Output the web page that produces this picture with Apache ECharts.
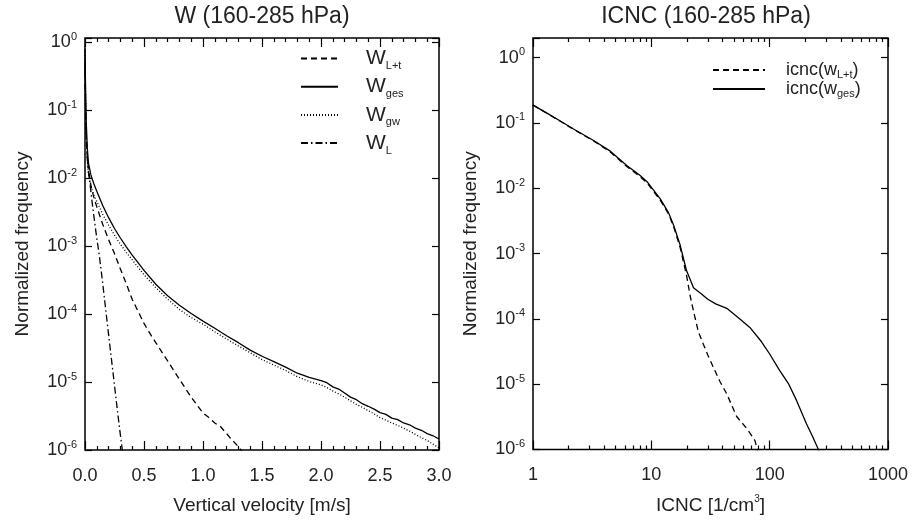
<!DOCTYPE html>
<html><head><meta charset="utf-8">
<script src="https://cdn.jsdelivr.net/npm/echarts@6.0.0/dist/echarts.min.js"></script>
<style>html,body{margin:0;padding:0;background:#fff}#c{width:912px;height:520px}</style>
</head><body><div id="c"></div>
<script>
// ---------- Left panel: W (160-285 hPa) ----------
const wVel = [0, 0.005, 0.01, 0.02, 0.03, 0.05, 0.075, 0.1, 0.15, 0.2, 0.25, 0.3, 0.35, 0.4, 0.5, 0.6, 0.7, 0.8, 0.9, 1.0, 1.1, 1.2, 1.3, 1.4, 1.5, 1.6, 1.7, 1.8, 1.9, 2.0, 2.05, 2.1, 2.15, 2.2, 2.25, 2.3, 2.35, 2.4, 2.45, 2.5, 2.55, 2.6, 2.65, 2.7, 2.75, 2.8, 2.85, 2.9, 2.95, 3.0];
const wGes = [0.79, 0.20, 0.071, 0.027, 0.0166, 0.0112, 0.0083, 0.00646, 0.00398, 0.00263, 0.00182, 0.00132, 9.8e-4, 7.4e-4, 4.4e-4, 2.75e-4, 1.86e-4, 1.35e-4, 1.02e-4, 7.9e-5, 6.2e-5, 4.8e-5, 3.8e-5, 2.95e-5, 2.4e-5, 2.0e-5, 1.66e-5, 1.35e-5, 1.17e-5, 1.05e-5, 9.8e-6, 8.5e-6, 7.9e-6, 6.9e-6, 6.0e-6, 5.5e-6, 4.8e-6, 4.4e-6, 4.0e-6, 3.55e-6, 3.35e-6, 2.95e-6, 2.8e-6, 2.5e-6, 2.35e-6, 2.1e-6, 1.95e-6, 1.74e-6, 1.62e-6, 1.45e-6];
const wGw  = [0.89, 0.158, 0.05, 0.0178, 0.0112, 0.0076, 0.0056, 0.00457, 0.00295, 0.00204, 0.00145, 0.00107, 8.1e-4, 6.3e-4, 3.8e-4, 2.45e-4, 1.66e-4, 1.17e-4, 8.9e-5, 7.1e-5, 5.5e-5, 4.3e-5, 3.4e-5, 2.7e-5, 2.14e-5, 1.78e-5, 1.48e-5, 1.2e-5, 1.02e-5, 9.1e-6, 8.3e-6, 7.4e-6, 6.7e-6, 6.0e-6, 5.3e-6, 4.7e-6, 4.25e-6, 3.8e-6, 3.4e-6, 3.0e-6, 2.75e-6, 2.5e-6, 2.3e-6, 2.1e-6, 1.9e-6, 1.7e-6, 1.52e-6, 1.38e-6, 1.22e-6, 1.07e-6];
const wLtVel = [0, 0.005, 0.01, 0.02, 0.03, 0.05, 0.075, 0.1, 0.15, 0.2, 0.25, 0.3, 0.35, 0.4, 0.5, 0.55, 0.6, 0.7, 0.8, 0.9, 1.0, 1.05, 1.1, 1.15, 1.2, 1.25, 1.3, 1.33];
const wLt    = [0.5, 0.126, 0.0447, 0.02, 0.0132, 0.0079, 0.0052, 0.0038, 0.0021, 0.00125, 7.8e-4, 4.6e-4, 2.8e-4, 1.65e-4, 7.3e-5, 5.2e-5, 3.8e-5, 2.05e-5, 1.1e-5, 6.0e-6, 3.5e-6, 3.0e-6, 2.5e-6, 2.2e-6, 1.74e-6, 1.38e-6, 1.12e-6, 9.5e-7];
const wLVel = [0, 0.005, 0.01, 0.02, 0.03, 0.04, 0.06, 0.08, 0.1, 0.12, 0.14, 0.16, 0.18, 0.2, 0.22, 0.24, 0.26, 0.28, 0.3, 0.32];
const wL    = [0.4, 0.1, 0.04, 0.019, 0.012, 0.0089, 0.0045, 0.0024, 0.0013, 7.6e-4, 4.0e-4, 2.0e-4, 1.0e-4, 5.0e-5, 2.5e-5, 1.26e-5, 6.3e-6, 3.2e-6, 1.66e-6, 8.9e-7];

// ---------- Right panel: ICNC (160-285 hPa) ----------
const icncX   = [1, 1.3, 1.7, 2.2, 3.25, 4.5, 6.2, 8, 9.2, 11.9, 14, 15.4, 17.5, 19.9, 21.3, 22.7, 25.9, 30, 35, 43.4, 56, 68, 85, 100, 122, 145, 169, 205, 230, 257, 270];
const icncGes = [0.188, 0.143, 0.107, 0.081, 0.054, 0.037, 0.0224, 0.0158, 0.0126, 0.0069, 0.0042, 0.00275, 0.00135, 5.4e-4, 4.0e-4, 3.0e-4, 2.5e-4, 2.0e-4, 1.7e-4, 1.45e-4, 1.0e-4, 7.4e-5, 4.5e-5, 2.9e-5, 1.6e-5, 1.0e-5, 5.6e-6, 2.45e-6, 1.6e-6, 1.02e-6, 8e-7];
const icncLtX = [1, 1.3, 1.7, 2.2, 3.25, 4.5, 6.2, 8, 9.2, 11.9, 14, 15.4, 17.5, 19.9, 21.3, 22.7, 25, 27.5, 30, 33.4, 38, 43.4, 52.6, 64, 70, 75, 80];
const icncLt  = [0.188, 0.142, 0.106, 0.080, 0.053, 0.036, 0.0215, 0.0152, 0.0121, 0.0066, 0.0040, 0.0026, 0.00125, 4.5e-4, 2.24e-4, 1.32e-4, 6.3e-5, 4.1e-5, 2.8e-5, 1.82e-5, 1.1e-5, 7.1e-6, 3.2e-6, 2.1e-6, 1.66e-6, 1.38e-6, 9e-7];

const icncMinorTicks = [2,3,4,5,6,7,8,9,20,30,40,50,60,70,80,90,200,300,400,500,600,700,800,900];

const FONT = "'Liberation Sans', Arial, Helvetica, sans-serif";
const TXT = '#222';
const pairs = (xs, ys) => xs.map((x, i) => [x, ys[i]]);

function powLabel(v) {
  const e = Math.log10(v);
  const r = Math.round(e);
  if (Math.abs(e - r) > 1e-6) return '';
  return '{b|10}{s|' + r + '}';
}
const powRich = {
  b: { fontSize: 18, fontFamily: FONT, color: TXT, lineHeight: 22 },
  s: { fontSize: 11, fontFamily: FONT, color: TXT, lineHeight: 12, verticalAlign: 'top' }
};
const tickStyle = { color: '#000', width: 1.2 };
const noLine = { show: false, onZero: false };
const nameStyle = { fontSize: 19, fontFamily: FONT, color: TXT };

function velAxis(pos, withLabel) {
  const a = {
    gridIndex: 0, type: 'value', position: pos, min: 0, max: 3, interval: 0.5,
    axisLine: noLine,
    axisTick: { show: true, inside: true, length: 9, lineStyle: tickStyle },
    minorTick: { show: true, splitNumber: 5, length: 4, lineStyle: tickStyle },
    splitLine: { show: false }, minorSplitLine: { show: false },
    axisLabel: { show: withLabel, formatter: v => v.toFixed(1), margin: 17, fontSize: 18, color: TXT, fontFamily: FONT }
  };
  if (withLabel) {
    a.name = 'Vertical velocity [m/s]'; a.nameLocation = 'middle'; a.nameGap = 46; a.nameTextStyle = nameStyle;
  }
  return a;
}
function icncAxis(pos, withLabel) {
  const a = {
    gridIndex: 1, type: 'log', logBase: 10, position: pos, min: 1, max: 1000,
    axisLine: noLine,
    axisTick: { show: true, inside: true, length: 9, lineStyle: tickStyle },
    splitLine: { show: false },
    axisLabel: { show: withLabel, formatter: v => String(Math.round(v)), margin: 17, fontSize: 18, color: TXT, fontFamily: FONT }
  };
  if (withLabel) {
    a.name = '{a|ICNC [1/cm}{s|3}{a|]}'; a.nameLocation = 'middle'; a.nameGap = 45;
    a.nameTextStyle = { fontSize: 19, fontFamily: FONT, color: TXT, rich: {
      a: { fontSize: 19, fontFamily: FONT, color: TXT, lineHeight: 22 },
      s: { fontSize: 10, fontFamily: FONT, color: TXT, lineHeight: 12, verticalAlign: 'top' } } };
  }
  return a;
}
function icncMinorAxis(pos) {
  return {
    gridIndex: 1, type: 'value', position: pos, min: 0, max: 3,
    axisLine: noLine,
    axisTick: { show: true, inside: true, length: 4, lineStyle: tickStyle,
      customValues: icncMinorTicks.map(v => Math.log10(v)) },
    axisLabel: { show: false }, splitLine: { show: false }
  };
}
function freqAxis(grid, pos, max, withLabel) {
  const a = {
    gridIndex: grid, type: 'log', logBase: 10, position: pos, min: 1e-6, max: max,
    axisLine: noLine,
    axisTick: { show: true, inside: true, length: 7, lineStyle: tickStyle },
    splitLine: { show: false },
    axisLabel: { show: withLabel, formatter: powLabel, margin: 8, rich: powRich }
  };
  if (withLabel) {
    a.name = 'Normalized frequency'; a.nameLocation = 'middle'; a.nameGap = 53; a.nameTextStyle = nameStyle;
  }
  return a;
}

const lineSeries = (name, xi, yi, data, type) => ({
  name, type: 'line', xAxisIndex: xi, yAxisIndex: yi, data,
  symbol: 'none', showSymbol: false, clip: true, silent: true,
  itemStyle: { color: '#000' },
  lineStyle: { color: '#000', width: 1.3, type }
});

const leftLegendRich = {
  b: { fontSize: 21, fontFamily: FONT, color: TXT, lineHeight: 26, padding: [0, 0, 0, 23] },
  s: { fontSize: 11, fontFamily: FONT, color: TXT, lineHeight: 12, verticalAlign: 'bottom' }
};
const rightLegendRich = {
  a: { fontSize: 18, fontFamily: FONT, color: TXT, lineHeight: 20, padding: [0, 0, 0, 16] },
  c: { fontSize: 18, fontFamily: FONT, color: TXT, lineHeight: 20 },
  s: { fontSize: 11, fontFamily: FONT, color: TXT, lineHeight: 10, verticalAlign: 'bottom' }
};
const rightLegendText = { 'icnc(w_L+t)': '{a|icnc(w}{s|L+t}{c|)}', 'icnc(w_ges)': '{a|icnc(w}{s|ges}{c|)}' };
const hiddenSymbol = { color: 'rgba(0,0,0,0)', borderWidth: 0, opacity: 0 };

const chart = echarts.init(document.getElementById('c'), null, { renderer: 'canvas' });
chart.setOption({
  animation: false,
  backgroundColor: '#fff',
  textStyle: { fontFamily: FONT },
  grid: [
    { left: 85, top: 38, width: 354, height: 414, show: true, borderColor: '#000', borderWidth: 1.5, backgroundColor: 'transparent', containLabel: false },
    { left: 533, top: 38, width: 355, height: 414, show: true, borderColor: '#000', borderWidth: 1.5, backgroundColor: 'transparent', containLabel: false }
  ],
  graphic: [
    { type: 'text', x: 262, y: 17, style: { text: 'W (160-285 hPa)', font: '23px ' + FONT, fill: TXT, textAlign: 'center', textVerticalAlign: 'middle', align: 'center', verticalAlign: 'middle' } },
    { type: 'text', x: 706, y: 17, style: { text: 'ICNC (160-285 hPa)', font: '23px ' + FONT, fill: TXT, textAlign: 'center', textVerticalAlign: 'middle', align: 'center', verticalAlign: 'middle' } }
  ],
  legend: [
    { data: ['W_L+t', 'W_ges', 'W_gw', 'W_L'], orient: 'vertical', left: 300, top: 48, padding: 0,
      itemWidth: 37, itemHeight: 24, itemGap: 4.7, selectedMode: false,
      itemStyle: hiddenSymbol,
      formatter: n => { const p = n.split('_'); return '{b|' + p[0] + '}{s|' + p[1] + '}'; },
      textStyle: { rich: leftLegendRich } },
    { data: ['icnc(w_L+t)', 'icnc(w_ges)'], orient: 'vertical', left: 712, top: 61, padding: 0,
      itemWidth: 52, itemHeight: 20, itemGap: 0, selectedMode: false,
      itemStyle: hiddenSymbol,
      formatter: n => rightLegendText[n],
      textStyle: { rich: rightLegendRich } }
  ],
  xAxis: [velAxis('bottom', true), velAxis('top', false), icncAxis('bottom', true), icncAxis('top', false), icncMinorAxis('bottom'), icncMinorAxis('top')],
  yAxis: [freqAxis(0, 'left', 1.16, true), freqAxis(0, 'right', 1.16, false), freqAxis(1, 'left', 2, true), freqAxis(1, 'right', 2, false)],
  series: [
    lineSeries('W_L+t', 0, 0, pairs(wLtVel, wLt), [6, 4]),
    lineSeries('W_ges', 0, 0, pairs(wVel, wGes), 'solid'),
    lineSeries('W_gw', 0, 0, pairs(wVel, wGw), [1, 2]),
    lineSeries('W_L', 0, 0, pairs(wLVel, wL), [7, 3, 1.5, 3]),
    lineSeries('icnc(w_L+t)', 2, 2, pairs(icncLtX, icncLt), [6, 4]),
    lineSeries('icnc(w_ges)', 2, 2, pairs(icncX, icncGes), 'solid')
  ]
});
</script>
</body></html>
